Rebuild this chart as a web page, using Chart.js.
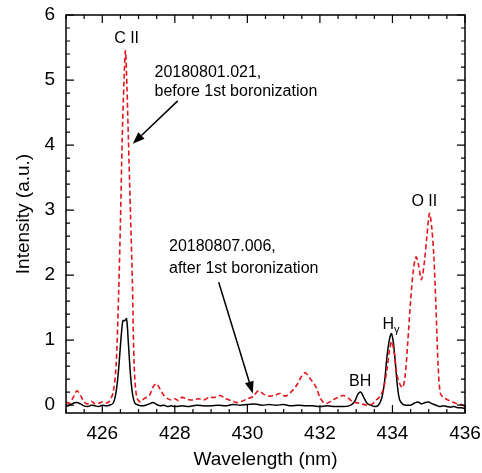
<!DOCTYPE html>
<html>
<head>
<meta charset="utf-8">
<title>Spectrum before / after boronization</title>
<script src="https://cdn.jsdelivr.net/npm/chart.js@4.4.1/dist/chart.umd.min.js"></script>
<style>
  html, body { margin: 0; padding: 0; background: #fff; }
  #wrap { width: 482px; height: 473px; }
</style>
</head>
<body>
<div id="wrap"><canvas id="spec" width="482" height="473"></canvas></div>
<script>
// spectrum after 1st boronization (black, solid)
const afterWl = [425.0,425.1,425.2,425.3,425.4,425.5,425.6,425.7,425.8,425.9,426.0,426.1,426.2,426.3,426.38,426.45,426.52,426.57,426.62,426.67,426.72,426.78,426.84,426.9,427.0,427.1,427.2,427.3,427.4,427.5,427.6,427.7,427.8,427.9,428.0,428.2,428.4,428.6,428.8,429.0,429.2,429.4,429.6,429.8,430.0,430.2,430.4,430.6,430.8,431.0,431.2,431.4,431.6,431.8,432.0,432.2,432.4,432.6,432.8,432.95,433.05,433.13,433.2,433.3,433.4,433.5,433.6,433.7,433.78,433.85,433.92,433.97,434.02,434.08,434.14,434.2,434.3,434.4,434.5,434.6,434.7,434.8,434.9,435.0,435.1,435.2,435.3,435.4,435.5,435.6,435.7,435.8,435.9,436.0];
const afterInt = [-0.02,0.0,0.03,0.04,0.02,-0.01,-0.02,0.0,-0.01,-0.02,0.0,-0.01,0.0,0.03,0.2,0.55,1.05,1.3,1.3,1.33,0.95,0.45,0.15,0.03,0.0,-0.01,0.0,0.02,0.04,0.01,-0.01,0.0,-0.02,-0.01,-0.02,-0.01,-0.02,0.0,-0.01,-0.01,0.0,-0.01,0.01,0.0,0.01,0.02,0.0,0.01,0.0,0.01,-0.01,0.0,-0.01,-0.01,-0.02,-0.01,-0.02,-0.02,-0.01,0.05,0.17,0.2,0.13,0.03,0.0,-0.02,-0.01,0.1,0.35,0.75,1.02,1.1,0.98,0.65,0.28,0.08,0.01,0.0,0.0,0.03,0.05,0.02,0.04,0.05,0.02,0.0,-0.02,-0.01,-0.02,-0.03,-0.02,-0.04,-0.04,-0.05];

// spectrum before 1st boronization (red, dashed)
const beforeWl = [425.0,425.1,425.2,425.3,425.4,425.5,425.6,425.7,425.8,425.9,426.0,426.1,426.2,426.3,426.38,426.45,426.5,426.55,426.6,426.64,426.68,426.72,426.78,426.83,426.88,426.95,427.05,427.15,427.3,427.4,427.5,427.6,427.7,427.8,427.9,428.0,428.1,428.2,428.35,428.5,428.65,428.8,428.95,429.1,429.25,429.4,429.55,429.7,429.85,430.0,430.15,430.3,430.45,430.6,430.75,430.9,431.05,431.2,431.35,431.5,431.6,431.7,431.8,431.9,432.0,432.1,432.2,432.35,432.5,432.65,432.8,432.9,433.0,433.15,433.3,433.45,433.55,433.65,433.75,433.85,433.92,433.98,434.05,434.12,434.2,434.28,434.35,434.42,434.5,434.58,434.65,434.72,434.8,434.88,434.95,435.02,435.08,435.14,435.2,435.26,435.32,435.4,435.5,435.6,435.7,435.8,435.9,436.0];
const beforeInt = [0.05,0.03,0.12,0.22,0.15,0.05,0.02,0.06,0.02,0.03,0.05,0.03,0.06,0.2,0.6,1.7,2.8,4.1,5.0,5.45,4.9,4.1,2.9,1.9,0.6,0.12,0.05,0.1,0.15,0.28,0.33,0.24,0.15,0.1,0.08,0.1,0.07,0.12,0.09,0.08,0.1,0.08,0.12,0.12,0.15,0.1,0.07,0.04,0.06,0.1,0.13,0.22,0.17,0.14,0.15,0.18,0.14,0.2,0.3,0.45,0.5,0.43,0.36,0.27,0.12,0.04,0.03,0.08,0.12,0.15,0.1,0.05,0.04,0.02,0.0,0.02,0.08,0.13,0.25,0.55,0.85,0.98,0.8,0.48,0.33,0.27,0.45,0.95,1.6,2.1,2.28,2.15,1.93,2.2,2.6,2.95,2.75,2.3,1.5,0.6,0.18,0.12,0.09,0.06,0.04,0.02,0.01,-0.02];

// tick labels
const xTickVals = [426, 428, 430, 432, 434, 436];
const yTickVals = [0, 1, 2, 3, 4, 5, 6];

// text annotations, placed in data units (wavelength, intensity)
const peakLabels = [
  { text: 'C II', x: 426.67, y: 5.63 },
  { text: 'O II', x: 434.88, y: 3.13 },
  { text: 'BH',   x: 433.11, y: 0.37 }
];
const noteBefore = ['20180801.021,', 'before 1st boronization'];
const noteAfter  = ['20180807.006,', 'after 1st boronization'];

const FONT = '"Liberation Sans", Arial, Helvetica, sans-serif';
Chart.defaults.font.family = FONT;
Chart.defaults.color = '#000';

function pairs(xs, ys) { return xs.map((x, i) => ({ x: x, y: ys[i] })); }

// frame, inward ticks on all four sides, and labels/arrows
const decorPlugin = {
  id: 'decor',
  afterDraw(chart) {
    const ctx = chart.ctx;
    const a = chart.chartArea;
    const xs = chart.scales.x, ys = chart.scales.y;
    ctx.save();
    ctx.strokeStyle = '#000';
    ctx.lineWidth = 1.5;
    ctx.strokeRect(a.left, a.top, a.right - a.left, a.bottom - a.top);

    ctx.lineWidth = 1.2;
    ctx.beginPath();
    // x ticks every 0.5 nm, long on labelled values
    for (let v = 425; v <= 436.001; v += 0.5) {
      const px = xs.getPixelForValue(v);
      const len = (Math.abs(v % 2) < 0.01) ? 8 : 4;
      ctx.moveTo(px, a.bottom); ctx.lineTo(px, a.bottom - len);
      ctx.moveTo(px, a.top); ctx.lineTo(px, a.top + len);
    }
    // y ticks every 0.2
    for (let k = 0; k <= 30; k++) {
      const v = k * 0.2;
      const py = ys.getPixelForValue(v);
      const len = (k % 5 === 0) ? 8 : 4;
      ctx.moveTo(a.left, py); ctx.lineTo(a.left + len, py);
      ctx.moveTo(a.right, py); ctx.lineTo(a.right - len, py);
    }
    ctx.stroke();

    ctx.fillStyle = '#000';
    ctx.font = '16px ' + FONT;
    ctx.textAlign = 'center';
    ctx.textBaseline = 'middle';
    peakLabels.forEach(l => {
      ctx.fillText(l.text, xs.getPixelForValue(l.x), ys.getPixelForValue(l.y));
    });
    // H gamma with subscript
    const hx = xs.getPixelForValue(433.99), hy = ys.getPixelForValue(1.24);
    ctx.textAlign = 'right';
    ctx.fillText('H', hx + 2, hy);
    ctx.font = '11px ' + FONT;
    ctx.textAlign = 'left';
    ctx.fillText('\u03b3', hx + 2, hy + 5);

    ctx.font = '16px ' + FONT;
    ctx.textAlign = 'left';
    const note = (lines, x, y0, y1) => {
      ctx.fillText(lines[0], xs.getPixelForValue(x), ys.getPixelForValue(y0));
      ctx.fillText(lines[1], xs.getPixelForValue(x), ys.getPixelForValue(y1));
    };
    note(noteBefore, 427.44, 5.11, 4.82);
    note(noteAfter, 427.84, 2.44, 2.1);

    const arrow = (x0, y0, x1, y1) => {
      const p0x = xs.getPixelForValue(x0), p0y = ys.getPixelForValue(y0);
      const p1x = xs.getPixelForValue(x1), p1y = ys.getPixelForValue(y1);
      const ang = Math.atan2(p1y - p0y, p1x - p0x);
      const hl = 12, hw = 4.5;
      const bx = p1x - hl * Math.cos(ang), by = p1y - hl * Math.sin(ang);
      ctx.lineWidth = 1.5;
      ctx.beginPath();
      ctx.moveTo(p0x, p0y); ctx.lineTo(bx, by);
      ctx.stroke();
      ctx.beginPath();
      ctx.moveTo(p1x, p1y);
      ctx.lineTo(bx + hw * Math.sin(ang), by - hw * Math.cos(ang));
      ctx.lineTo(bx - hw * Math.sin(ang), by + hw * Math.cos(ang));
      ctx.closePath();
      ctx.fill();
    };
    arrow(428.08, 4.68, 426.84, 4.02);
    arrow(429.21, 1.89, 430.15, 0.18);
    ctx.restore();
  }
};

new Chart(document.getElementById('spec').getContext('2d'), {
  type: 'line',
  data: {
    datasets: [
      {
        label: '20180801.021',
        data: pairs(beforeWl, beforeInt),
        borderColor: '#e3161b',
        borderWidth: 1.6,
        borderDash: [5, 3],
        pointRadius: 0,
        tension: 0.3,
        fill: false
      },
      {
        label: '20180807.006',
        data: pairs(afterWl, afterInt),
        borderColor: '#000',
        borderWidth: 1.5,
        pointRadius: 0,
        tension: 0.3,
        fill: false
      }
    ]
  },
  options: {
    responsive: false,
    animation: false,
    layout: { padding: { top: 15, right: 17, left: 0, bottom: 0 } },
    plugins: { legend: { display: false }, tooltip: { enabled: false } },
    scales: {
      x: {
        type: 'linear',
        min: 425, max: 436,
        afterFit: s => { s.height = 60; s.paddingLeft = 0; s.paddingRight = 0; },
        afterBuildTicks: s => { s.ticks = xTickVals.map(v => ({ value: v })); },
        grid: { display: false, drawTicks: false },
        border: { display: false },
        ticks: { font: { size: 19 }, padding: 9, maxRotation: 0, autoSkip: false },
        title: { display: true, text: 'Wavelength (nm)', font: { size: 19 }, padding: { top: 2, bottom: 2 } }
      },
      y: {
        type: 'linear',
        min: -0.12, max: 6,
        afterFit: s => { s.width = 66; s.paddingTop = 0; s.paddingBottom = 0; },
        afterBuildTicks: s => { s.ticks = yTickVals.map(v => ({ value: v })); },
        grid: { display: false, drawTicks: false },
        border: { display: false },
        ticks: { font: { size: 19 }, padding: 11 },
        title: { display: true, text: 'Intensity (a.u.)', font: { size: 19 }, padding: { top: 12, bottom: 12 } }
      }
    }
  },
  plugins: [decorPlugin]
});
</script>
</body>
</html>
